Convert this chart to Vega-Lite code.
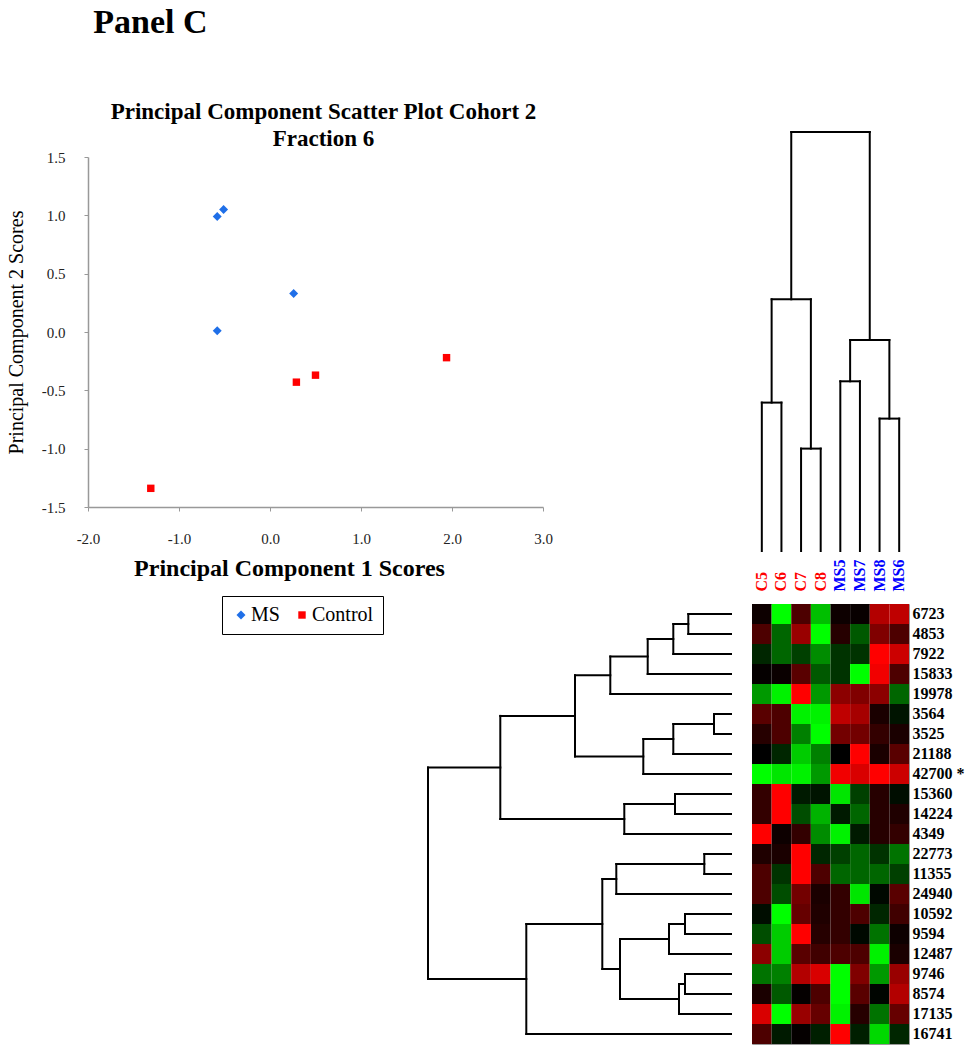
{
 "$schema": "https://vega.github.io/schema/vega-lite/v6.json",
 "padding": {"left": 6, "top": 6, "right": 5, "bottom": 5},
 "background": "white",
 "title": {"text": "Panel C", "anchor": "start", "font": "Liberation Serif", "fontSize": 34, "fontWeight": "bold", "color": "black", "dx": 87, "offset": 61},
 "config": {"view": {"stroke": null}, "font": "Liberation Serif"},
 "columns": 2,
 "bounds": "flush",
 "align": "each",
 "spacing": {"row": 53, "column": 21},
 "resolve": {"scale": {"color": "independent", "shape": "independent", "size": "independent", "x": "independent", "y": "independent"}, "legend": {"color": "independent", "shape": "independent", "size": "independent"}},
 "concat": [
  {
   "width": 455, "height": 350,
   "title": {"text": ["Principal Component Scatter Plot Cohort 2", "Fraction 6"], "font": "Liberation Serif", "fontSize": 23, "fontWeight": "bold", "color": "black", "offset": -1, "lineHeight": 27, "dx": 8, "anchor": "middle"},
   "data": {"values": [
    {"pc1": -0.58, "pc2": 0.99, "group": "MS"},
    {"pc1": -0.51, "pc2": 1.05, "group": "MS"},
    {"pc1": 0.26, "pc2": 0.33, "group": "MS"},
    {"pc1": -0.58, "pc2": 0.01, "group": "MS"},
    {"pc1": 0.29, "pc2": -0.43, "group": "Control"},
    {"pc1": 0.50, "pc2": -0.37, "group": "Control"},
    {"pc1": 1.94, "pc2": -0.22, "group": "Control"},
    {"pc1": -1.31, "pc2": -1.34, "group": "Control"}
   ]},
   "mark": {"type": "point", "filled": true, "opacity": 1},
   "encoding": {
    "x": {"field": "pc1", "type": "quantitative", "scale": {"domain": [-2, 3], "nice": false, "zero": false},
     "axis": {"values": [-2, -1, 0, 1, 2, 3], "format": ".1f", "labelExpr": "replace(datum.label, '\u2212', '-')", "labelFlush": false, "title": "Principal Component 1 Scores", "titleFont": "Liberation Serif", "titleFontWeight": "bold", "titleFontSize": 24, "titleColor": "black", "titlePadding": 10, "titleX": 201, "titleAlign": "center", "labelPadding": 20, "labelFont": "Liberation Serif", "labelFontSize": 15, "labelColor": "#222", "tickSize": 4, "grid": false, "domainColor": "#999", "tickColor": "#999", "domainWidth": 1.5}},
    "y": {"field": "pc2", "type": "quantitative", "scale": {"domain": [-1.5, 1.5], "nice": false, "zero": false},
     "axis": {"values": [-1.5, -1, -0.5, 0, 0.5, 1, 1.5], "format": ".1f", "labelExpr": "replace(datum.label, '\u2212', '-')", "labelFlush": false, "title": "Principal Component 2 Scores", "titleFont": "Liberation Serif", "titleFontWeight": "normal", "titleFontSize": 20, "titleColor": "black", "titlePadding": 15, "labelPadding": 19, "labelFont": "Liberation Serif", "labelFontSize": 15, "labelColor": "#222", "tickSize": 4, "grid": false, "domainColor": "#999", "tickColor": "#999", "domainWidth": 1.5}},
    "color": {"field": "group", "type": "nominal", "scale": {"domain": ["MS", "Control"], "range": ["#1f6fe8", "#ff0000"]},
     "legend": {"orient": "none", "legendX": 134, "legendY": 439, "direction": "horizontal", "title": null, "strokeColor": "black", "padding": 9, "labelFont": "Liberation Serif", "labelFontSize": 20, "labelColor": "black", "columnPadding": 12, "labelOffset": 0, "labelLimit": 200}},
    "shape": {"field": "group", "type": "nominal", "scale": {"domain": ["MS", "Control"], "range": ["diamond", "square"]},
     "legend": {"orient": "none", "legendX": 134, "legendY": 439, "direction": "horizontal", "title": null, "strokeColor": "black", "padding": 9, "labelFont": "Liberation Serif", "labelFontSize": 20, "labelColor": "black", "columnPadding": 12, "labelOffset": 0, "labelLimit": 200}},
    "size": {"field": "group", "type": "nominal", "scale": {"domain": ["MS", "Control"], "range": [80, 55]},
     "legend": {"orient": "none", "legendX": 134, "legendY": 439, "direction": "horizontal", "title": null, "strokeColor": "black", "padding": 9, "labelFont": "Liberation Serif", "labelFontSize": 20, "labelColor": "black", "columnPadding": 12, "labelOffset": 0, "labelLimit": 200}}
   }
  },
  {
   "width": 157, "height": 394,
   "data": {"values": [
    {"x": 0, "x2": 1, "h": 148.4, "h2": 148.4},
    {"x": 0, "x2": 0, "h": 0, "h2": 148.4},
    {"x": 1, "x2": 1, "h": 0, "h2": 148.4},
    {"x": 2, "x2": 3, "h": 102.4, "h2": 102.4},
    {"x": 2, "x2": 2, "h": 0, "h2": 102.4},
    {"x": 3, "x2": 3, "h": 0, "h2": 102.4},
    {"x": 0.5, "x2": 2.5, "h": 251.7, "h2": 251.7},
    {"x": 0.5, "x2": 0.5, "h": 148.4, "h2": 251.7},
    {"x": 2.5, "x2": 2.5, "h": 102.4, "h2": 251.7},
    {"x": 4, "x2": 5, "h": 169.7, "h2": 169.7},
    {"x": 4, "x2": 4, "h": 0, "h2": 169.7},
    {"x": 5, "x2": 5, "h": 0, "h2": 169.7},
    {"x": 6, "x2": 7, "h": 132.4, "h2": 132.4},
    {"x": 6, "x2": 6, "h": 0, "h2": 132.4},
    {"x": 7, "x2": 7, "h": 0, "h2": 132.4},
    {"x": 4.5, "x2": 6.5, "h": 211, "h2": 211},
    {"x": 4.5, "x2": 4.5, "h": 169.7, "h2": 211},
    {"x": 6.5, "x2": 6.5, "h": 132.4, "h2": 211},
    {"x": 1.5, "x2": 5.5, "h": 419, "h2": 419},
    {"x": 1.5, "x2": 1.5, "h": 251.7, "h2": 419},
    {"x": 5.5, "x2": 5.5, "h": 211, "h2": 419}
   ]},
   "mark": {"type": "rule", "color": "black", "strokeWidth": 2, "strokeCap": "square"},
   "encoding": {
    "x": {"field": "x", "type": "quantitative", "scale": {"domain": [-0.5, 7.5], "nice": false, "zero": false}, "axis": null},
    "x2": {"field": "x2"},
    "y": {"field": "h", "type": "quantitative", "scale": {"domain": [0, 394], "nice": false, "zero": false}, "axis": null},
    "y2": {"field": "h2"}
   }
  },
  {
   "width": 643, "height": 440,
   "data": {"values": [
    {"d": 42.7, "d2": 42.7, "r": 0, "r2": 1},
    {"d": 0, "d2": 42.7, "r": 0, "r2": 0},
    {"d": 0, "d2": 42.7, "r": 1, "r2": 1},
    {"d": 57.7, "d2": 57.7, "r": 0.5, "r2": 2},
    {"d": 42.7, "d2": 57.7, "r": 0.5, "r2": 0.5},
    {"d": 0, "d2": 57.7, "r": 2, "r2": 2},
    {"d": 83.3, "d2": 83.3, "r": 1.25, "r2": 3},
    {"d": 57.7, "d2": 83.3, "r": 1.25, "r2": 1.25},
    {"d": 0, "d2": 83.3, "r": 3, "r2": 3},
    {"d": 120.7, "d2": 120.7, "r": 2.125, "r2": 4},
    {"d": 83.3, "d2": 120.7, "r": 2.125, "r2": 2.125},
    {"d": 0, "d2": 120.7, "r": 4, "r2": 4},
    {"d": 17, "d2": 17, "r": 5, "r2": 6},
    {"d": 0, "d2": 17, "r": 5, "r2": 5},
    {"d": 0, "d2": 17, "r": 6, "r2": 6},
    {"d": 57.7, "d2": 57.7, "r": 5.5, "r2": 7},
    {"d": 17, "d2": 57.7, "r": 5.5, "r2": 5.5},
    {"d": 0, "d2": 57.7, "r": 7, "r2": 7},
    {"d": 87.7, "d2": 87.7, "r": 6.25, "r2": 8},
    {"d": 57.7, "d2": 87.7, "r": 6.25, "r2": 6.25},
    {"d": 0, "d2": 87.7, "r": 8, "r2": 8},
    {"d": 156, "d2": 156, "r": 3.0625, "r2": 7.125},
    {"d": 120.7, "d2": 156, "r": 3.0625, "r2": 3.0625},
    {"d": 87.7, "d2": 156, "r": 7.125, "r2": 7.125},
    {"d": 56, "d2": 56, "r": 9, "r2": 10},
    {"d": 0, "d2": 56, "r": 9, "r2": 9},
    {"d": 0, "d2": 56, "r": 10, "r2": 10},
    {"d": 106.7, "d2": 106.7, "r": 9.5, "r2": 11},
    {"d": 56, "d2": 106.7, "r": 9.5, "r2": 9.5},
    {"d": 0, "d2": 106.7, "r": 11, "r2": 11},
    {"d": 230.7, "d2": 230.7, "r": 5.094, "r2": 10.25},
    {"d": 156, "d2": 230.7, "r": 5.094, "r2": 5.094},
    {"d": 106.7, "d2": 230.7, "r": 10.25, "r2": 10.25},
    {"d": 26.7, "d2": 26.7, "r": 12, "r2": 13},
    {"d": 0, "d2": 26.7, "r": 12, "r2": 12},
    {"d": 0, "d2": 26.7, "r": 13, "r2": 13},
    {"d": 114.7, "d2": 114.7, "r": 12.5, "r2": 14},
    {"d": 26.7, "d2": 114.7, "r": 12.5, "r2": 12.5},
    {"d": 0, "d2": 114.7, "r": 14, "r2": 14},
    {"d": 46, "d2": 46, "r": 15, "r2": 16},
    {"d": 0, "d2": 46, "r": 15, "r2": 15},
    {"d": 0, "d2": 46, "r": 16, "r2": 16},
    {"d": 62, "d2": 62, "r": 15.5, "r2": 17},
    {"d": 46, "d2": 62, "r": 15.5, "r2": 15.5},
    {"d": 0, "d2": 62, "r": 17, "r2": 17},
    {"d": 46, "d2": 46, "r": 18, "r2": 19},
    {"d": 0, "d2": 46, "r": 18, "r2": 18},
    {"d": 0, "d2": 46, "r": 19, "r2": 19},
    {"d": 52, "d2": 52, "r": 18.5, "r2": 20},
    {"d": 46, "d2": 52, "r": 18.5, "r2": 18.5},
    {"d": 0, "d2": 52, "r": 20, "r2": 20},
    {"d": 111, "d2": 111, "r": 16.25, "r2": 19.25},
    {"d": 62, "d2": 111, "r": 16.25, "r2": 16.25},
    {"d": 52, "d2": 111, "r": 19.25, "r2": 19.25},
    {"d": 128.7, "d2": 128.7, "r": 13.25, "r2": 17.75},
    {"d": 114.7, "d2": 128.7, "r": 13.25, "r2": 13.25},
    {"d": 111, "d2": 128.7, "r": 17.75, "r2": 17.75},
    {"d": 204.7, "d2": 204.7, "r": 15.5, "r2": 21},
    {"d": 128.7, "d2": 204.7, "r": 15.5, "r2": 15.5},
    {"d": 0, "d2": 204.7, "r": 21, "r2": 21},
    {"d": 303, "d2": 303, "r": 7.672, "r2": 18.25},
    {"d": 230.7, "d2": 303, "r": 7.672, "r2": 7.672},
    {"d": 204.7, "d2": 303, "r": 18.25, "r2": 18.25}
   ]},
   "mark": {"type": "rule", "color": "black", "strokeWidth": 2, "strokeCap": "square"},
   "encoding": {
    "x": {"field": "d", "type": "quantitative", "scale": {"domain": [0, 643], "nice": false, "zero": false, "reverse": true}, "axis": null},
    "x2": {"field": "d2"},
    "y": {"field": "r", "type": "quantitative", "scale": {"domain": [-0.5, 21.5], "nice": false, "zero": false, "reverse": true}, "axis": null},
    "y2": {"field": "r2"}
   }
  },
  {
   "width": 157, "height": 440,
   "view": {"stroke": "#999", "strokeWidth": 1},
   "data": {"values": [
    {"row": "6723", "col": "C5", "v": 0.05}, {"row": "6723", "col": "C6", "v": -1}, {"row": "6723", "col": "C7", "v": 0.3}, {"row": "6723", "col": "C8", "v": -0.75}, {"row": "6723", "col": "MS5", "v": 0.05}, {"row": "6723", "col": "MS7", "v": 0.03}, {"row": "6723", "col": "MS8", "v": 0.7}, {"row": "6723", "col": "MS6", "v": 0.75},
    {"row": "4853", "col": "C5", "v": 0.3}, {"row": "4853", "col": "C6", "v": -0.4}, {"row": "4853", "col": "C7", "v": 0.6}, {"row": "4853", "col": "C8", "v": -1}, {"row": "4853", "col": "MS5", "v": 0.15}, {"row": "4853", "col": "MS7", "v": -0.35}, {"row": "4853", "col": "MS8", "v": 0.5}, {"row": "4853", "col": "MS6", "v": 0.3},
    {"row": "7922", "col": "C5", "v": -0.15}, {"row": "7922", "col": "C6", "v": -0.4}, {"row": "7922", "col": "C7", "v": -0.25}, {"row": "7922", "col": "C8", "v": -0.55}, {"row": "7922", "col": "MS5", "v": -0.2}, {"row": "7922", "col": "MS7", "v": -0.2}, {"row": "7922", "col": "MS8", "v": 1}, {"row": "7922", "col": "MS6", "v": 0.8},
    {"row": "15833", "col": "C5", "v": 0.02}, {"row": "15833", "col": "C6", "v": 0.04}, {"row": "15833", "col": "C7", "v": 0.35}, {"row": "15833", "col": "C8", "v": -0.35}, {"row": "15833", "col": "MS5", "v": -0.2}, {"row": "15833", "col": "MS7", "v": -1}, {"row": "15833", "col": "MS8", "v": 0.95}, {"row": "15833", "col": "MS6", "v": 0.3},
    {"row": "19978", "col": "C5", "v": -0.6}, {"row": "19978", "col": "C6", "v": -0.95}, {"row": "19978", "col": "C7", "v": 1}, {"row": "19978", "col": "C8", "v": -0.6}, {"row": "19978", "col": "MS5", "v": 0.55}, {"row": "19978", "col": "MS7", "v": 0.5}, {"row": "19978", "col": "MS8", "v": 0.55}, {"row": "19978", "col": "MS6", "v": -0.4},
    {"row": "3564", "col": "C5", "v": 0.35}, {"row": "3564", "col": "C6", "v": 0.3}, {"row": "3564", "col": "C7", "v": -0.95}, {"row": "3564", "col": "C8", "v": -0.95}, {"row": "3564", "col": "MS5", "v": 0.75}, {"row": "3564", "col": "MS7", "v": 0.65}, {"row": "3564", "col": "MS8", "v": 0.1}, {"row": "3564", "col": "MS6", "v": -0.08},
    {"row": "3525", "col": "C5", "v": 0.15}, {"row": "3525", "col": "C6", "v": 0.3}, {"row": "3525", "col": "C7", "v": -0.5}, {"row": "3525", "col": "C8", "v": -1}, {"row": "3525", "col": "MS5", "v": 0.45}, {"row": "3525", "col": "MS7", "v": 0.45}, {"row": "3525", "col": "MS8", "v": 0.2}, {"row": "3525", "col": "MS6", "v": 0.1},
    {"row": "21188", "col": "C5", "v": 0}, {"row": "21188", "col": "C6", "v": -0.15}, {"row": "21188", "col": "C7", "v": -0.8}, {"row": "21188", "col": "C8", "v": -0.5}, {"row": "21188", "col": "MS5", "v": 0}, {"row": "21188", "col": "MS7", "v": 1}, {"row": "21188", "col": "MS8", "v": 0.1}, {"row": "21188", "col": "MS6", "v": 0.35},
    {"row": "42700", "col": "C5", "v": -1}, {"row": "42700", "col": "C6", "v": -0.9}, {"row": "42700", "col": "C7", "v": -0.95}, {"row": "42700", "col": "C8", "v": -0.6}, {"row": "42700", "col": "MS5", "v": 0.95}, {"row": "42700", "col": "MS7", "v": 0.85}, {"row": "42700", "col": "MS8", "v": 1}, {"row": "42700", "col": "MS6", "v": 0.8},
    {"row": "15360", "col": "C5", "v": 0.2}, {"row": "15360", "col": "C6", "v": 1}, {"row": "15360", "col": "C7", "v": -0.1}, {"row": "15360", "col": "C8", "v": -0.08}, {"row": "15360", "col": "MS5", "v": -0.9}, {"row": "15360", "col": "MS7", "v": -0.25}, {"row": "15360", "col": "MS8", "v": 0.15}, {"row": "15360", "col": "MS6", "v": -0.05},
    {"row": "14224", "col": "C5", "v": 0.2}, {"row": "14224", "col": "C6", "v": 1}, {"row": "14224", "col": "C7", "v": -0.3}, {"row": "14224", "col": "C8", "v": -0.7}, {"row": "14224", "col": "MS5", "v": -0.1}, {"row": "14224", "col": "MS7", "v": -0.4}, {"row": "14224", "col": "MS8", "v": 0.15}, {"row": "14224", "col": "MS6", "v": 0.12},
    {"row": "4349", "col": "C5", "v": 1}, {"row": "4349", "col": "C6", "v": 0.05}, {"row": "4349", "col": "C7", "v": 0.2}, {"row": "4349", "col": "C8", "v": -0.55}, {"row": "4349", "col": "MS5", "v": -0.95}, {"row": "4349", "col": "MS7", "v": -0.1}, {"row": "4349", "col": "MS8", "v": 0.15}, {"row": "4349", "col": "MS6", "v": 0.2},
    {"row": "22773", "col": "C5", "v": 0.12}, {"row": "22773", "col": "C6", "v": 0.1}, {"row": "22773", "col": "C7", "v": 1}, {"row": "22773", "col": "C8", "v": -0.15}, {"row": "22773", "col": "MS5", "v": -0.25}, {"row": "22773", "col": "MS7", "v": -0.4}, {"row": "22773", "col": "MS8", "v": -0.2}, {"row": "22773", "col": "MS6", "v": -0.45},
    {"row": "11355", "col": "C5", "v": 0.3}, {"row": "11355", "col": "C6", "v": -0.2}, {"row": "11355", "col": "C7", "v": 1}, {"row": "11355", "col": "C8", "v": 0.3}, {"row": "11355", "col": "MS5", "v": -0.4}, {"row": "11355", "col": "MS7", "v": -0.4}, {"row": "11355", "col": "MS8", "v": -0.4}, {"row": "11355", "col": "MS6", "v": -0.25},
    {"row": "24940", "col": "C5", "v": 0.3}, {"row": "24940", "col": "C6", "v": -0.3}, {"row": "24940", "col": "C7", "v": 0.45}, {"row": "24940", "col": "C8", "v": 0.1}, {"row": "24940", "col": "MS5", "v": 0.2}, {"row": "24940", "col": "MS7", "v": -0.9}, {"row": "24940", "col": "MS8", "v": -0.03}, {"row": "24940", "col": "MS6", "v": 0.35},
    {"row": "10592", "col": "C5", "v": -0.05}, {"row": "10592", "col": "C6", "v": -1}, {"row": "10592", "col": "C7", "v": 0.4}, {"row": "10592", "col": "C8", "v": 0.12}, {"row": "10592", "col": "MS5", "v": 0.2}, {"row": "10592", "col": "MS7", "v": 0.3}, {"row": "10592", "col": "MS8", "v": -0.15}, {"row": "10592", "col": "MS6", "v": 0.25},
    {"row": "9594", "col": "C5", "v": -0.3}, {"row": "9594", "col": "C6", "v": -0.8}, {"row": "9594", "col": "C7", "v": 1}, {"row": "9594", "col": "C8", "v": 0.15}, {"row": "9594", "col": "MS5", "v": 0.2}, {"row": "9594", "col": "MS7", "v": -0.03}, {"row": "9594", "col": "MS8", "v": -0.45}, {"row": "9594", "col": "MS6", "v": 0.05},
    {"row": "12487", "col": "C5", "v": 0.55}, {"row": "12487", "col": "C6", "v": -0.8}, {"row": "12487", "col": "C7", "v": 0.35}, {"row": "12487", "col": "C8", "v": 0.25}, {"row": "12487", "col": "MS5", "v": 0.3}, {"row": "12487", "col": "MS7", "v": 0.3}, {"row": "12487", "col": "MS8", "v": -0.95}, {"row": "12487", "col": "MS6", "v": 0.1},
    {"row": "9746", "col": "C5", "v": -0.45}, {"row": "9746", "col": "C6", "v": -0.5}, {"row": "9746", "col": "C7", "v": 0.7}, {"row": "9746", "col": "C8", "v": 0.85}, {"row": "9746", "col": "MS5", "v": -1}, {"row": "9746", "col": "MS7", "v": 0.5}, {"row": "9746", "col": "MS8", "v": -0.6}, {"row": "9746", "col": "MS6", "v": 0.6},
    {"row": "8574", "col": "C5", "v": 0.1}, {"row": "8574", "col": "C6", "v": -0.35}, {"row": "8574", "col": "C7", "v": 0.02}, {"row": "8574", "col": "C8", "v": 0.3}, {"row": "8574", "col": "MS5", "v": -1}, {"row": "8574", "col": "MS7", "v": 0.35}, {"row": "8574", "col": "MS8", "v": -0.02}, {"row": "8574", "col": "MS6", "v": 0.7},
    {"row": "17135", "col": "C5", "v": 0.85}, {"row": "17135", "col": "C6", "v": -1}, {"row": "17135", "col": "C7", "v": 0.6}, {"row": "17135", "col": "C8", "v": 0.4}, {"row": "17135", "col": "MS5", "v": -0.95}, {"row": "17135", "col": "MS7", "v": 0.15}, {"row": "17135", "col": "MS8", "v": -0.45}, {"row": "17135", "col": "MS6", "v": 0.4},
    {"row": "16741", "col": "C5", "v": 0.3}, {"row": "16741", "col": "C6", "v": -0.1}, {"row": "16741", "col": "C7", "v": 0.02}, {"row": "16741", "col": "C8", "v": -0.12}, {"row": "16741", "col": "MS5", "v": 1}, {"row": "16741", "col": "MS7", "v": -0.12}, {"row": "16741", "col": "MS8", "v": -0.85}, {"row": "16741", "col": "MS6", "v": -0.15}
   ]},
   "mark": {"type": "rect"},
   "encoding": {
    "x": {"field": "col", "type": "nominal", "sort": ["C5", "C6", "C7", "C8", "MS5", "MS7", "MS8", "MS6"], "scale": {"paddingInner": 0, "paddingOuter": 0},
     "axis": {"orient": "top", "title": null, "labelAngle": -90, "domain": false, "ticks": false, "labelPadding": 13, "labelFont": "Liberation Serif", "labelFontSize": 16, "labelFontWeight": "bold",
      "labelColor": {"condition": {"test": "indexof(datum.value, 'MS') === 0", "value": "#0000ff"}, "value": "#ff0000"}}},
    "y": {"field": "row", "type": "nominal", "sort": ["6723", "4853", "7922", "15833", "19978", "3564", "3525", "21188", "42700", "15360", "14224", "4349", "22773", "11355", "24940", "10592", "9594", "12487", "9746", "8574", "17135", "16741"], "scale": {"paddingInner": 0, "paddingOuter": 0},
     "axis": {"orient": "right", "title": null, "domain": false, "ticks": false, "labelPadding": 3, "labelFont": "Liberation Serif", "labelFontSize": 16, "labelFontWeight": "bold", "labelColor": "black", "labelExpr": "datum.value === '42700' ? '42700   *' : datum.value"}},
    "color": {"field": "v", "type": "quantitative", "scale": {"domain": [-1, 0, 1], "range": ["#00ff00", "#000000", "#ff0000"], "interpolate": "rgb"}, "legend": null}
   }
  }
 ]
}
